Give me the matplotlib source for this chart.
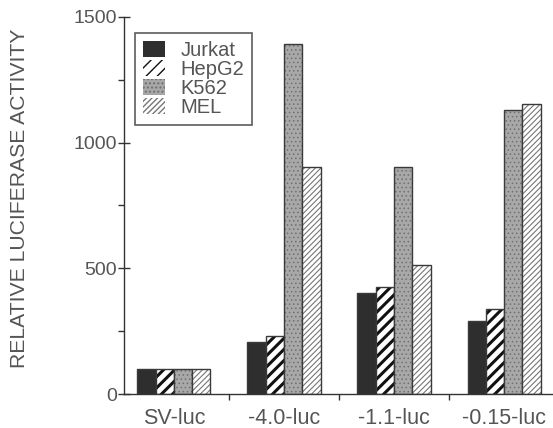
import numpy as np
import matplotlib.pyplot as plt

# valores
constructs = ["SV-luc", "-4.0-luc", "-1.1-luc", "-0.15-luc"]
lines = ["Jurkat", "HepG2", "K562", "MEL"]
jurkat = [100, 205, 400, 292]
hepg2 = [100, 230, 425, 340]
k562 = [100, 1392, 902, 1128]
mel = [100, 902, 512, 1155]

series = [jurkat, hepg2, k562, mel]
# (cara, trama, color de trama)
styles = [
    ("#2e2e2e", "", "#2e2e2e"),
    ("white", "///", "#111111"),
    ("#a8a8a8", "....", "#707070"),
    ("white", "//////", "#777777"),
]
hatch_lw = [1.0, 2.2, 0.6, 0.8]

txt = "#555555"
plt.rcParams['font.family'] = ['Liberation Sans', 'DejaVu Sans']

fig = plt.figure(figsize=(5.53, 4.28), dpi=100)
ax = fig.add_axes([0.224, 0.0794, 0.776, 0.881])

x = np.arange(len(constructs))
w = 0.166
handles = []
for i, vals in enumerate(series):
    face, hatch, hcol = styles[i]
    pos = x + (i - 1.5) * w
    bars = ax.bar(pos, vals, w, color=face, edgecolor=hcol, hatch=hatch, linewidth=0)
    for b in bars:
        try:
            b.set_hatch_linewidth(hatch_lw[i])
        except AttributeError:
            pass
    ax.bar(pos, vals, w, color="none", edgecolor="#3a3a3a", linewidth=1.0)
    handles.append(bars)

ax.set_xlim(-0.455, 3.445)
ax.set_ylim(0, 1500)

for s in ["top", "right"]:
    ax.spines[s].set_visible(False)
for s in ["left", "bottom"]:
    ax.spines[s].set_color("#333333")
    ax.spines[s].set_linewidth(1.0)

ax.set_yticks([0, 500, 1000, 1500])
ax.set_yticks([250, 750, 1250], minor=True)
ax.tick_params(axis="y", which="major", direction="inout", length=8, width=1, color="#333333",
               labelsize=14, labelcolor=txt, pad=1)
ax.tick_params(axis="y", which="minor", direction="out", length=4, width=1, color="#333333")

ax.set_xticks(x)
ax.set_xticklabels(constructs)
ax.set_xticks([0.5, 1.5, 2.5], minor=True)
ax.tick_params(axis="x", which="major", length=0, labelsize=15.5, labelcolor=txt, pad=10)
ax.tick_params(axis="x", which="minor", direction="out", length=4, width=1, color="#333333")

ax.set_ylabel("RELATIVE LUCIFERASE ACTIVITY", fontsize=15.2, color=txt)
ax.yaxis.set_label_coords(-0.222, 0.52)

leg = ax.legend([h[0] for h in handles], lines, loc="upper left", bbox_to_anchor=(0.026, 0.958),
                fontsize=14.5, frameon=True, fancybox=False, handlelength=1.1, handleheight=0.85,
                handletextpad=0.75, labelspacing=0.0, borderpad=0.4, borderaxespad=0)
leg.get_frame().set_edgecolor("#333333")
leg.get_frame().set_linewidth(1.2)
for t in leg.get_texts():
    t.set_color(txt)

fig.savefig("out.png", dpi=100)
